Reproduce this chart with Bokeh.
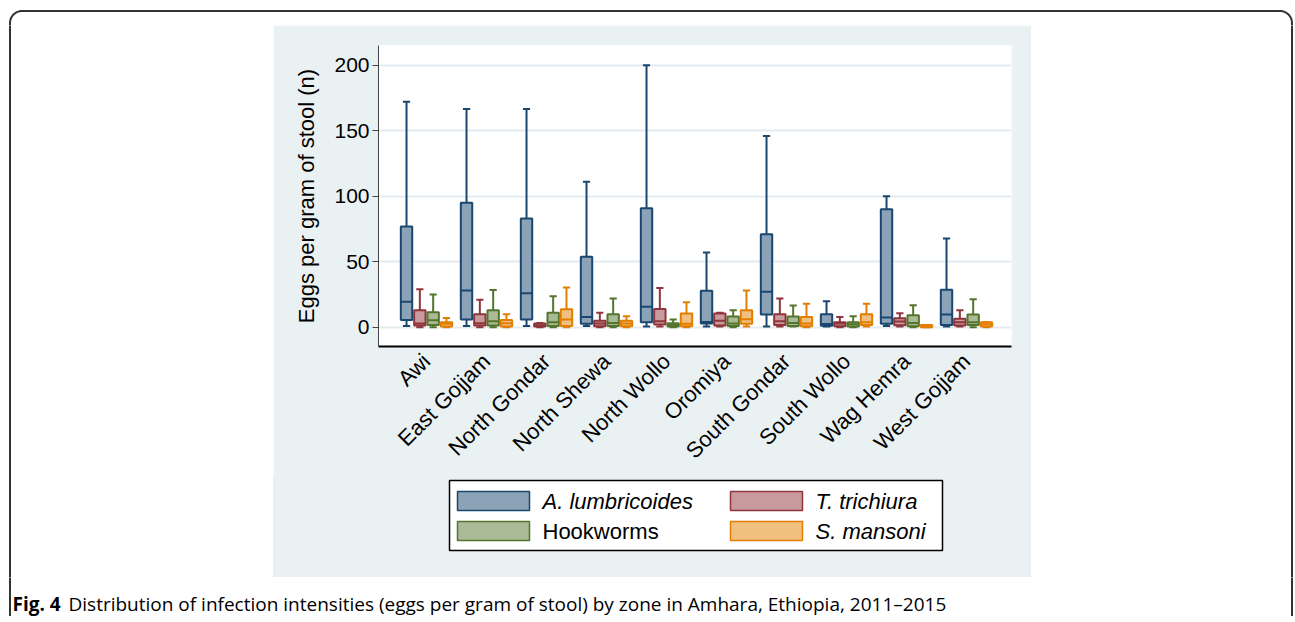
import math
from bokeh.plotting import figure
from bokeh.models import Range1d, FixedTicker, ColumnDataSource
from bokeh.layouts import column, row
from bokeh.core.properties import value
from bokeh.embed import file_html
from bokeh.resources import INLINE

zones = ["Awi", "East Gojjam", "North Gondar", "North Shewa", "North Wollo",
         "Oromiya", "South Gondar", "South Wollo", "Wag Hemra", "West Gojjam"]

species = ["A. lumbricoides", "T. trichiura", "Hookworms", "S. mansoni"]
italic = [True, True, False, True]
line_colors = ["#1A476F", "#90353B", "#55752F", "#E37E00"]
fill_colors = ["#8CA3B7", "#C89A9D", "#AABA97", "#F1BF80"]

# A. lumbricoides
a_lo = [1, 1, 1, 1, 0.5, 0.5, 0.5, 0.5, 1, 0.5]
a_q1 = [5.6, 5.9, 5.9, 2.6, 3.8, 2.8, 9.7, 1.2, 2.6, 1.8]
a_med = [19.5, 28, 26, 7.9, 15.7, 4, 27, 2.5, 7.4, 9.7]
a_q3 = [76.8, 95, 83, 53.8, 90.8, 27.9, 71, 10, 90, 28.7]
a_hi = [172, 166.5, 166.5, 111, 200, 57, 146, 19.8, 100, 67.7]
# T. trichiura
t_lo = [0, 0, 0, 0, 0.5, 0.5, 0.5, 0, 0.5, 0.5]
t_q1 = [1.3, 1.3, 0.5, 0.8, 2, 1.3, 1.8, 0.8, 1.5, 1.3]
t_med = [2.8, 3, 1.5, 2.8, 4.6, 5, 4.6, 2.8, 4.3, 3.8]
t_q3 = [13, 10, 2.8, 5, 14, 10.4, 10, 3.8, 6.9, 6.4]
t_hi = [29, 21, 3.3, 11, 30, 11, 22, 7.9, 10.6, 13]
# Hookworms
h_lo = [0, 0, 0, 0, 0, 0, 0.5, 0, 0, 0]
h_q1 = [1.8, 1.3, 1, 1, 0.5, 1, 1, 0.5, 0.8, 1.8]
h_med = [5.3, 4.6, 3.8, 3.3, 1.8, 2.8, 3.3, 2.3, 3.3, 3.8]
h_q3 = [11.4, 13, 11, 10, 3, 8.1, 8.1, 3.8, 9.1, 9.7]
h_hi = [25, 28.4, 23.6, 22, 5.9, 13, 16.5, 8.4, 16.7, 21.3]
# S. mansoni
s_lo = [0, 0, 0, 0, 0, 0.5, 0, 0.5, 0, 0]
s_q1 = [0.5, 0.5, 1, 0.8, 0.8, 2.6, 0.8, 1.8, 0, 0.5]
s_med = [2.6, 3, 5.9, 2.8, 2.6, 6, 2.8, 3.8, 1, 2.3]
s_q3 = [3.8, 5.6, 13.7, 5, 10.4, 13, 7.9, 10, 1.8, 3.8]
s_hi = [7.1, 10, 30.4, 8.4, 19, 28, 18, 18, 1.8, 3.8]

stats = [
    (a_lo, a_q1, a_med, a_q3, a_hi),
    (t_lo, t_q1, t_med, t_q3, t_hi),
    (h_lo, h_q1, h_med, h_q3, h_hi),
    (s_lo, s_q1, s_med, s_q3, s_hi),
]

y_ticks = [0, 50, 100, 150, 200]
y_label = "Eggs per gram of stool (n)"
caption_bold = "Fig. 4"
caption_text = ("Distribution of infection intensities (eggs per gram of stool) by zone in Amhara, "
                "Ethiopia, 2011\u20132015")

PANEL = "#EAF1F3"
GRID = "#E4ECF0"
FONT = "Liberation Sans"
FRAME = "#333333"

# page geometry (px)
W, H = 1293, 616
PX0, PX1, PY0, PY1 = 273, 1031, 25, 577      # grey-blue panel
CHART_H = 450
CHART_BOTTOM = 128

offsets = [-0.333, -0.111, 0.111, 0.333]
box_w = 0.19
cap_w = 0.12

# ---------------- chart ----------------
p = figure(width=PX1 - PX0, height=CHART_H, x_range=Range1d(-0.8, 9.75), y_range=Range1d(-14.7, 215),
           toolbar_location=None, output_backend="svg",
           min_border_left=105, min_border_right=20, min_border_top=20, min_border_bottom=CHART_BOTTOM,
           background_fill_color="white", border_fill_color=PANEL, outline_line_color=None)

for k in range(4):
    lo, q1, med, q3, hi = stats[k]
    xs = [i + offsets[k] for i in range(len(zones))]
    src = ColumnDataSource(dict(x=xs, x0=[x - cap_w / 2 for x in xs], x1=[x + cap_w / 2 for x in xs],
                                bx0=[x - box_w / 2 for x in xs], bx1=[x + box_w / 2 for x in xs],
                                lo=lo, q1=q1, med=med, q3=q3, hi=hi))
    lc = line_colors[k]
    p.segment(x0="x", y0="q3", x1="x", y1="hi", source=src, line_color=lc, line_width=2)
    p.segment(x0="x", y0="lo", x1="x", y1="q1", source=src, line_color=lc, line_width=2)
    p.segment(x0="x0", y0="hi", x1="x1", y1="hi", source=src, line_color=lc, line_width=2)
    p.segment(x0="x0", y0="lo", x1="x1", y1="lo", source=src, line_color=lc, line_width=2)
    p.vbar(x="x", width=box_w, bottom="q1", top="q3", source=src,
           fill_color=fill_colors[k], line_color=lc, line_width=2)
    p.segment(x0="bx0", y0="med", x1="bx1", y1="med", source=src, line_color=lc, line_width=2)

p.xgrid.visible = False
p.ygrid.grid_line_color = GRID
p.ygrid.grid_line_width = 2
p.yaxis.ticker = FixedTicker(ticks=y_ticks)
p.xaxis.ticker = FixedTicker(ticks=list(range(len(zones))))
p.xaxis.major_label_overrides = {i: z for i, z in enumerate(zones)}
p.xaxis.major_label_orientation = math.pi / 4
p.xaxis.major_tick_line_color = None
p.xaxis.minor_tick_line_color = None
p.xaxis.axis_line_color = "black"
p.xaxis.axis_line_width = 2
p.xaxis.major_label_text_font = FONT
p.xaxis.major_label_text_font_size = "22px"
p.xaxis.major_label_text_color = "black"
p.xaxis.major_label_standoff = 5
p.yaxis.axis_label = y_label
p.yaxis.axis_label_text_font = FONT
p.yaxis.axis_label_text_font_size = "22px"
p.yaxis.axis_label_text_font_style = "normal"
p.yaxis.axis_label_text_color = "black"
p.yaxis.axis_label_standoff = 12
p.yaxis.major_label_text_font = FONT
p.yaxis.major_label_text_font_size = "21px"
p.yaxis.major_label_text_color = "black"
p.yaxis.major_label_standoff = 3
p.yaxis.major_tick_out = 6
p.yaxis.major_tick_in = 0
p.yaxis.minor_tick_line_color = None
p.yaxis.axis_line_color = "#444444"
p.yaxis.major_tick_line_color = "#444444"

# ---------------- legend (page pixel coords) ----------------
LG_TOP = PY0 + CHART_H
LG_H = PY1 - LG_TOP
lg = figure(width=PX1 - PX0, height=LG_H, x_range=Range1d(PX0 + 105, PX1 - 20), y_range=Range1d(PY1, LG_TOP),
            toolbar_location=None, output_backend="svg",
            min_border_left=105, min_border_right=20, min_border_top=0, min_border_bottom=0,
            background_fill_color=None, border_fill_color=None, outline_line_color=None,
            styles={"background-color": PANEL})
lg.axis.visible = False
lg.grid.visible = False
lg.quad(left=449, right=942, top=480, bottom=550, fill_color="white", line_color="black", line_width=1.5)
sw_left = [457, 730, 457, 730]
sw_top = [491, 491, 521, 521]
for k in range(4):
    lg.quad(left=sw_left[k], right=sw_left[k] + 72, top=sw_top[k], bottom=sw_top[k] + 19,
            fill_color=fill_colors[k], line_color=line_colors[k], line_width=1.5)
    lg.text(x=[sw_left[k] + 85], y=[sw_top[k] + 10], text=[species[k]],
            text_font=value(FONT), text_font_size="22px",
            text_font_style="italic" if italic[k] else "normal",
            text_baseline="middle", text_align="left", text_color="black")

panel = column(p, lg, spacing=0)

# ---------------- page frame strips ----------------
fl, fr, ft, fb, rad = 9.5, 1291.5, 10.5, 640, 12
fxs, fys = [], []
for cx, cy, a0, a1 in [(fr - rad, ft + rad, -90, 0), (fr - rad, fb - rad, 0, 90),
                       (fl + rad, fb - rad, 90, 180), (fl + rad, ft + rad, 180, 270)]:
    for j in range(13):
        a = math.radians(a0 + (a1 - a0) * j / 12)
        fxs.append(cx + rad * math.cos(a))
        fys.append(cy + rad * math.sin(a))
fxs.append(fxs[0])
fys.append(fys[0])


def strip(x0, x1, y0, y1):
    f = figure(width=x1 - x0, height=y1 - y0, x_range=Range1d(x0, x1), y_range=Range1d(y1, y0),
               toolbar_location=None, output_backend="svg", min_border=0,
               background_fill_color="white", border_fill_color="white", outline_line_color=None)
    f.axis.visible = False
    f.grid.visible = False
    f.line(fxs, fys, line_color=FRAME, line_width=2)
    return f


top = strip(0, W, 0, PY0)
left = strip(0, PX0, PY0, PY1)
right = strip(PX1, W, PY0, PY1)
bottom = strip(0, W, PY1, H)
bottom.text(x=[12], y=[603], text=[caption_bold], text_font=value("Open Sans"), text_font_size="19px",
            text_font_style="bold", text_baseline="middle", text_color="black")
bottom.text(x=[68], y=[603], text=[caption_text], text_font=value("Open Sans"), text_font_size="19px",
            text_baseline="middle", text_color="black")

page = column(top, row(left, panel, right, spacing=0), bottom, spacing=0)

open("out.html", "w").write(file_html(page, INLINE))
